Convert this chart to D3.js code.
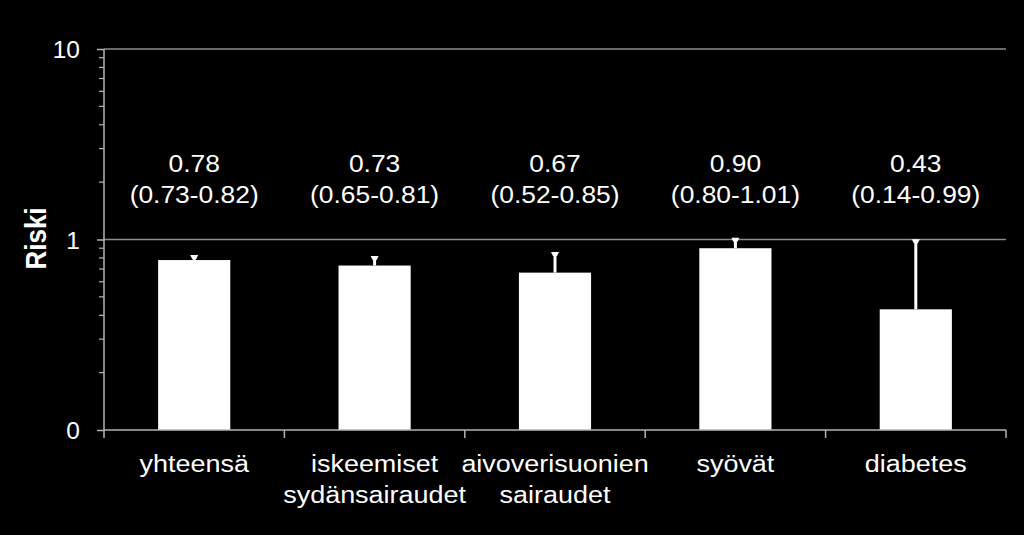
<!DOCTYPE html>
<html>
<head>
<meta charset="utf-8">
<script src="https://cdn.jsdelivr.net/npm/d3@7/dist/d3.min.js"></script>
<style>
  html, body { margin: 0; padding: 0; background: #000; }
  svg { display: block; }
  text { font-family: "Liberation Sans", Arial, sans-serif; fill: #fff; }
</style>
</head>
<body>
<svg id="chart" width="1024" height="535"></svg>
<script>
const categories = [["yhteensä"], ["iskeemiset", "sydänsairaudet"], ["aivoverisuonien", "sairaudet"], ["syövät"], ["diabetes"]];
const values = [0.78, 0.73, 0.67, 0.90, 0.43];
const lower = [0.73, 0.65, 0.52, 0.80, 0.14];
const upper = [0.82, 0.81, 0.85, 1.01, 0.99];
const valueLabels = ["0.78", "0.73", "0.67", "0.90", "0.43"];
const ciLabels = ["(0.73-0.82)", "(0.65-0.81)", "(0.52-0.85)", "(0.80-1.01)", "(0.14-0.99)"];
const yTicks = [0.1, 1, 10];
const yTickLabels = ["0", "1", "10"];
const yLabel = "Riski";

(function () {
const svg = d3.select("#chart");
const mLeft = 104, mRight = 1006, mTop = 49, mBottom = 430;
const sx = 1.1;

const x = d3.scaleBand().domain(d3.range(categories.length)).range([mLeft, mRight]).paddingInner(0).paddingOuter(0);
const y = d3.scaleLog().domain([0.1, 10]).range([mBottom, mTop]);

const axisColor = "#b4b4b4";
const gridColor = "#8c8c8c";

// gridlines
svg.append("g").selectAll("line").data([1, 10]).join("line")
  .attr("x1", mLeft).attr("x2", mRight)
  .attr("y1", d => y(d)).attr("y2", d => y(d))
  .attr("stroke", gridColor).attr("stroke-width", 1.5);

// bars
const bw = x.bandwidth() * 0.4;
svg.append("g").selectAll("rect").data(values).join("rect")
  .attr("x", (d, i) => x(i) + x.bandwidth() / 2 - bw / 2)
  .attr("width", bw)
  .attr("y", d => y(d))
  .attr("height", d => mBottom - y(d))
  .attr("fill", "#fff");

// error bars (upper)
const eg = svg.append("g");
values.forEach((v, i) => {
  const cx = x(i) + x.bandwidth() / 2;
  const yu = y(upper[i]);
  eg.append("line")
    .attr("x1", cx).attr("x2", cx)
    .attr("y1", y(v)).attr("y2", yu)
    .attr("stroke", "#fff").attr("stroke-width", 3);
  eg.append("path")
    .attr("d", `M${cx - 4},${yu - 1} L${cx + 4},${yu - 1} L${cx + 2},${yu + 3} L${cx - 2},${yu + 3} Z`)
    .attr("fill", "#fff");
});

// y axis
const yAxis = d3.axisLeft(y)
  .tickValues(yTicks)
  .tickSize(7)
  .tickFormat((d, i) => yTickLabels[i]);
const yg = svg.append("g").attr("transform", `translate(${mLeft},0)`).call(yAxis);
yg.select(".domain").attr("stroke", axisColor).attr("stroke-width", 1.5).attr("d", `M0,${mTop}V${mBottom}`);
yg.selectAll(".tick line").attr("stroke", axisColor).attr("stroke-width", 1.5);
yg.selectAll(".tick text")
  .attr("x", -24).attr("dy", "0.35em")
  .style("font-size", "24.5px").style("font-family", "Liberation Sans, Arial, sans-serif")
  .attr("fill", "#fff");

// minor ticks
const minor = [];
[0.1, 1].forEach(dec => { for (let k = 2; k <= 9; k++) minor.push(dec * k); });
svg.append("g").selectAll("line").data(minor).join("line")
  .attr("x1", mLeft - 5).attr("x2", mLeft)
  .attr("y1", d => y(d)).attr("y2", d => y(d))
  .attr("stroke", axisColor).attr("stroke-width", 1.2);

// x axis
svg.append("line").attr("x1", mLeft).attr("x2", mRight).attr("y1", mBottom).attr("y2", mBottom)
  .attr("stroke", axisColor).attr("stroke-width", 1.5);
const bounds = d3.range(categories.length + 1).map(i => mLeft + i * x.bandwidth());
svg.append("g").selectAll("line").data(bounds).join("line")
  .attr("x1", d => d).attr("x2", d => d)
  .attr("y1", mBottom).attr("y2", mBottom + 8)
  .attr("stroke", axisColor).attr("stroke-width", 1.5);

// category labels
const cg = svg.append("g");
categories.forEach((lines, i) => {
  const cx = x(i) + x.bandwidth() / 2;
  lines.forEach((t, j) => {
    cg.append("text")
      .attr("transform", `translate(${cx},${472 + j * 31}) scale(${sx},1)`)
      .attr("text-anchor", "middle")
      .style("font-size", "24.5px")
      .text(t);
  });
});

// value labels
const vg = svg.append("g");
values.forEach((v, i) => {
  const cx = x(i) + x.bandwidth() / 2;
  vg.append("text")
    .attr("transform", `translate(${cx},172) scale(${sx},1)`)
    .attr("text-anchor", "middle")
    .style("font-size", "24px")
    .text(valueLabels[i]);
  vg.append("text")
    .attr("transform", `translate(${cx},203) scale(${sx},1)`)
    .attr("text-anchor", "middle")
    .style("font-size", "24px")
    .text(ciLabels[i]);
});

// y label
svg.append("text")
  .attr("transform", `translate(46,238.5) scale(${sx},1) rotate(-90)`)
  .attr("text-anchor", "middle")
  .style("font-size", "26px")
  .style("font-weight", "bold")
  .text(yLabel);
})();
</script>
</body>
</html>
